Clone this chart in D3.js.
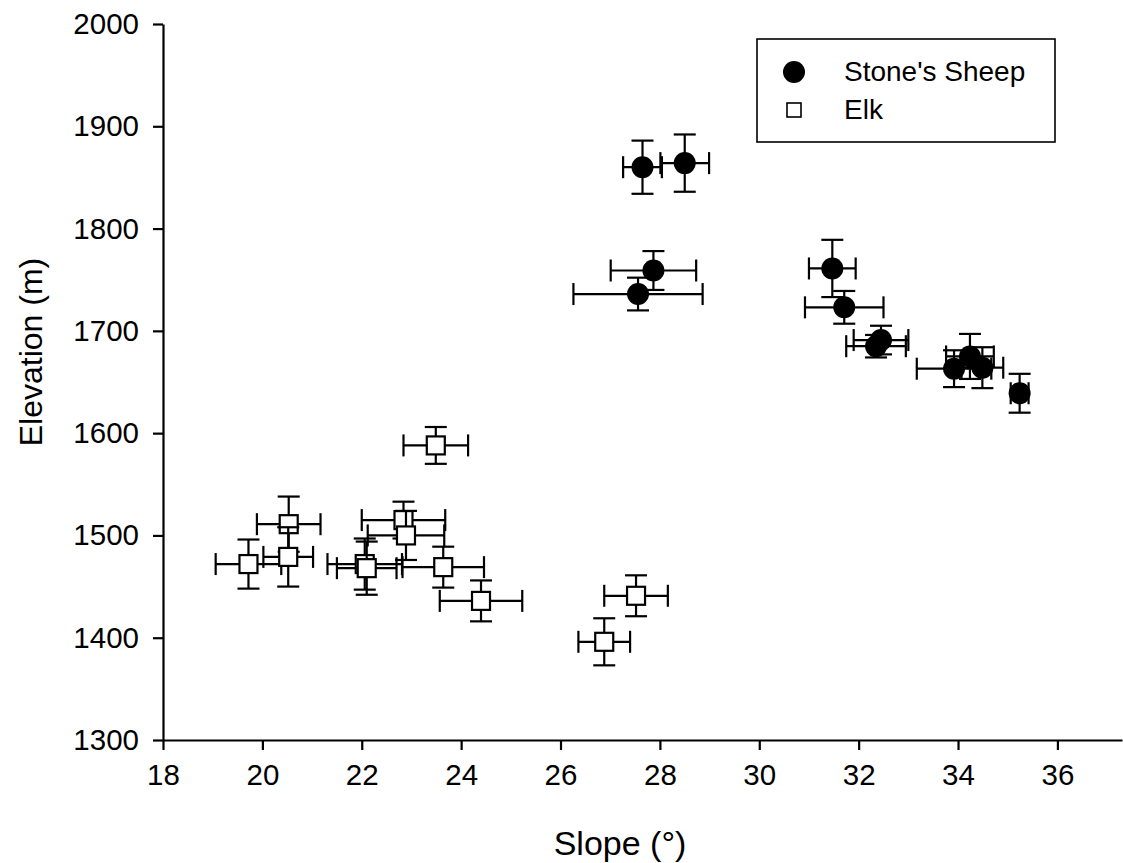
<!DOCTYPE html>
<html>
<head>
<meta charset="utf-8">
<script src="https://cdn.jsdelivr.net/npm/d3@7"></script>
<style>
  html, body { margin: 0; padding: 0; background: #fff; }
  svg { display: block; font-family: "Liberation Sans", Arial, sans-serif; }
</style>
</head>
<body>
<svg id="chart" width="1123" height="863"></svg>
<script>
// ---- data ----
const seriesNames = ["Stone's Sheep", "Elk"];

const sheepSlope     = [27.65, 28.50, 27.87, 27.56, 31.47, 31.71, 32.35, 32.45, 33.92, 34.24, 34.49, 35.24];
const sheepSlopeErr  = [0.39, 0.49, 0.86, 1.30, 0.47, 0.79, 0.60, 0.55, 0.75, 0.48, 0.42, 0.18];
const sheepElev      = [1860, 1864, 1759, 1736, 1761, 1723, 1685, 1691, 1663, 1675, 1664, 1639];
const sheepElevErr   = [26, 28, 19, 16, 28, 16, 11, 14, 18, 22, 20, 19];

const elkSlope       = [23.49, 20.53, 19.72, 20.52, 22.06, 22.10, 22.84, 22.89, 23.64, 24.40, 27.52, 26.88];
const elkSlopeErr    = [0.65, 0.64, 0.66, 0.50, 0.75, 0.60, 0.84, 0.77, 0.82, 0.83, 0.64, 0.52];
const elkElev        = [1588, 1511, 1472, 1479, 1472, 1468, 1515, 1500, 1469, 1436, 1441, 1396];
const elkElevErr     = [18, 27, 24, 29, 25, 26, 18, 24, 20, 20, 20, 23];

const xTicks = [18, 20, 22, 24, 26, 28, 30, 32, 34, 36];
const yTicks = [1300, 1400, 1500, 1600, 1700, 1800, 1900, 2000];
const xTitle = "Slope (\u00B0)";
const yTitle = "Elevation (m)";

// ---- layout ----
const svg = d3.select("#chart");
const x = d3.scaleLinear().domain([18, 37.3]).range([163, 1122]);
const y = d3.scaleLinear().domain([1300, 2000]).range([740, 24]);

const ink = "#000";

// axes
const xAxis = d3.axisBottom(x).tickValues(xTicks).tickSize(10).tickPadding(12)
  .tickSizeOuter(0).tickFormat(d3.format("d"));
const yAxis = d3.axisLeft(y).tickValues(yTicks).tickSize(10).tickPadding(14)
  .tickSizeOuter(0).tickFormat(d3.format("d"));

const gx = svg.append("g").attr("transform", `translate(0,${y(1300)})`).call(xAxis);
const gy = svg.append("g").attr("transform", `translate(${x(18)},0)`).call(yAxis);
[gx, gy].forEach(g => {
  g.select(".domain").attr("stroke", ink).attr("stroke-width", 2.2);
  g.selectAll(".tick line").attr("stroke", ink).attr("stroke-width", 2.2);
  g.selectAll(".tick text").attr("fill", ink).attr("font-size", 29.5)
    .attr("font-family", "Liberation Sans, Arial, sans-serif");
});
gx.selectAll(".tick text").attr("dy", "0.78em");

svg.append("text").attr("x", 620).attr("y", 855).attr("text-anchor", "middle")
  .attr("font-size", 34).attr("fill", ink).text(xTitle);
svg.append("text").attr("transform", `translate(42,352) rotate(-90)`).attr("text-anchor", "middle")
  .attr("font-size", 32).attr("fill", ink).text(yTitle);

// series
function build(sx, sxe, sy, sye) {
  return sx.map((v, i) => ({ x: v, xe: sxe[i], y: sy[i], ye: sye[i] }));
}
const sheep = build(sheepSlope, sheepSlopeErr, sheepElev, sheepElevErr);
const elk = build(elkSlope, elkSlopeErr, elkElev, elkElevErr);

const cap = 11;
function drawSeries(data, kind) {
  const g = svg.append("g");
  data.forEach(d => {
    const cx = x(d.x), cy = y(d.y);
    const x0 = x(d.x - d.xe), x1 = x(d.x + d.xe);
    const y0 = y(d.y - d.ye), y1 = y(d.y + d.ye);
    const pg = g.append("g").attr("stroke", ink).attr("stroke-width", 2.2);
    pg.append("line").attr("x1", x0).attr("x2", x1).attr("y1", cy).attr("y2", cy);
    pg.append("line").attr("x1", cx).attr("x2", cx).attr("y1", y0).attr("y2", y1);
    pg.append("line").attr("x1", x0).attr("x2", x0).attr("y1", cy - cap).attr("y2", cy + cap);
    pg.append("line").attr("x1", x1).attr("x2", x1).attr("y1", cy - cap).attr("y2", cy + cap);
    pg.append("line").attr("x1", cx - cap).attr("x2", cx + cap).attr("y1", y0).attr("y2", y0);
    pg.append("line").attr("x1", cx - cap).attr("x2", cx + cap).attr("y1", y1).attr("y2", y1);
    if (kind === "circle") {
      g.append("circle").attr("cx", cx).attr("cy", cy).attr("r", 11).attr("fill", ink);
    } else {
      g.append("rect").attr("x", cx - 9).attr("y", cy - 9).attr("width", 18).attr("height", 18)
        .attr("fill", "#fff").attr("stroke", ink).attr("stroke-width", 2.2);
    }
  });
}
drawSeries(elk, "square");
drawSeries(sheep, "circle");

// legend
const lg = svg.append("g");
lg.append("rect").attr("x", 757).attr("y", 39).attr("width", 298).attr("height", 103)
  .attr("fill", "#fff").attr("stroke", ink).attr("stroke-width", 1.6);
lg.append("circle").attr("cx", 794).attr("cy", 72).attr("r", 11).attr("fill", ink);
lg.append("rect").attr("x", 787).attr("y", 103).attr("width", 14).attr("height", 14)
  .attr("fill", "#fff").attr("stroke", ink).attr("stroke-width", 1.6);
lg.append("text").attr("x", 844).attr("y", 81).attr("font-size", 28).attr("fill", ink).text(seriesNames[0]);
lg.append("text").attr("x", 844).attr("y", 119).attr("font-size", 28).attr("fill", ink).text(seriesNames[1]);
</script>
</body>
</html>
